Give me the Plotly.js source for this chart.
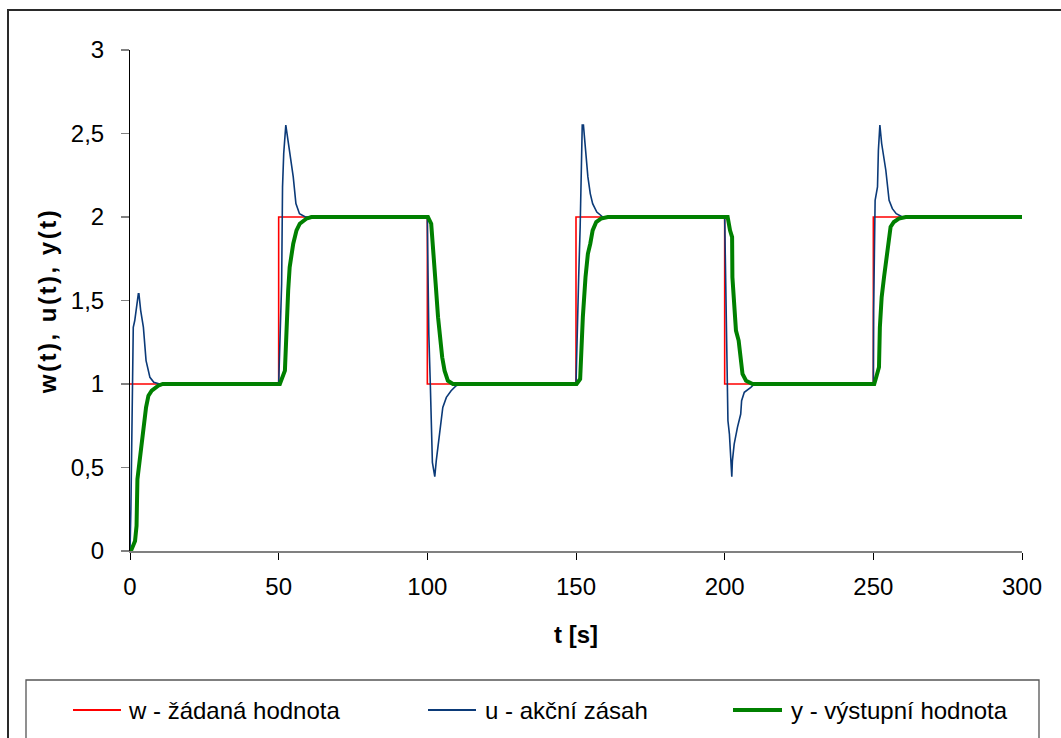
<!DOCTYPE html>
<html>
<head>
<meta charset="utf-8">
<script src="https://cdn.plot.ly/plotly-3.0.1.min.js"></script>
<style>
  html, body { margin: 0; padding: 0; background: #fff; }
  #chart { width: 1061px; height: 738px; }
  .g-ytitle text { letter-spacing: 2.5px; }
</style>
</head>
<body>
<div id="chart"></div>
<script>
// ---- data ----
const seriesNames = ["w - žádaná hodnota", "u - akční zásah", "y - výstupní hodnota"];

const tW = [0, 50, 100, 150, 200, 250, 300];
const wVals = [1, 2, 1, 2, 1, 2, 2];

const tU = [0, 0.3, 1.1, 1.6, 2.8, 3.0, 3.6, 4.5, 5.4, 6.7, 8, 10, 50,
  51, 51.3, 51.7, 52.4, 53.2, 54.9, 55.8, 57, 59, 100,
  100.2, 100.5, 101, 101.3, 101.7, 102.5, 103, 104.1, 105.2, 106.4, 108, 109.7, 111, 150,
  150.3, 150.9, 151.4, 151.7, 151.9, 152.1, 152.5, 153.2, 154, 154.8, 155.6, 157, 159, 200,
  200.2, 200.6, 201, 201.1, 201.6, 202.1, 202.4, 202.6, 203.2, 204.3, 205.4, 205.7, 206.6, 208.8, 210, 250,
  250.1, 250.6, 251.4, 251.7, 252.2, 252.8, 254.2, 255.3, 256.4, 257.7, 259.8, 300];
const uVals = [0, 0.25, 1.34, 1.38, 1.54, 1.54, 1.44, 1.34, 1.14, 1.04, 1.01, 1.0, 1.0,
  1.6, 2.18, 2.38, 2.55, 2.44, 2.24, 2.08, 2.02, 2.0, 2.0,
  1.7, 1.3, 1.0, 0.8, 0.53, 0.445, 0.54, 0.70, 0.86, 0.92, 0.96, 0.99, 1.0, 1.0,
  1.25, 1.64, 1.94, 2.2, 2.44, 2.55, 2.55, 2.42, 2.24, 2.14, 2.08, 2.03, 2.0, 2.0,
  1.8, 1.4, 1.1, 0.78, 0.70, 0.54, 0.445, 0.54, 0.64, 0.74, 0.82, 0.90, 0.95, 0.98, 1.0, 1.0,
  1.44, 2.10, 2.18, 2.40, 2.55, 2.44, 2.28, 2.10, 2.05, 2.02, 2.0, 2.0];

const tY = [0, 0.3, 1.7, 2.2, 2.5, 3.4, 4.5, 5.4, 6.2, 7.3, 9.5, 11, 50,
  50.4, 52.1, 52.6, 53.2, 53.7, 54.9, 56, 57.1, 59.3, 61, 100,
  100.2, 101.3, 101.9, 102.8, 103.6, 104.4, 105, 105.8, 106.9, 108.6, 111, 150,
  150.2, 151.4, 151.7, 152.3, 153.2, 154, 154.8, 155.6, 156.8, 158.4, 160.7, 200,
  201, 201.8, 202.5, 202.6, 203.2, 203.8, 204.7, 205.5, 206, 207.2, 209.4, 250,
  250.3, 250.8, 251.9, 252.2, 252.8, 253.6, 254.7, 255.5, 255.8, 256.9, 258.6, 260.9, 300];
const yVals = [0, 0, 0.06, 0.15, 0.43, 0.58, 0.72, 0.86, 0.93, 0.96, 0.99, 1.0, 1.0,
  1.0, 1.08, 1.34, 1.56, 1.70, 1.84, 1.92, 1.96, 1.99, 2.0, 2.0,
  2.0, 1.96, 1.84, 1.60, 1.40, 1.26, 1.16, 1.08, 1.02, 1.0, 1.0, 1.0,
  1.0, 1.03, 1.20, 1.40, 1.64, 1.78, 1.84, 1.92, 1.97, 1.99, 2.0, 2.0,
  2.0, 1.92, 1.88, 1.64, 1.46, 1.32, 1.26, 1.14, 1.06, 1.02, 1.0, 1.0,
  1.0, 1.03, 1.10, 1.34, 1.52, 1.64, 1.78, 1.88, 1.94, 1.97, 1.99, 2.0, 2.0];

const xTicks = [0, 50, 100, 150, 200, 250, 300];
const yTicks = [0, 0.5, 1, 1.5, 2, 2.5, 3];
const xTitle = "t [s]";
const yTitle = "w(t), u(t), y(t)";

// ---- styles ----
const colors = ["#ff0000", "#0b3a78", "#008000"];
const widths = [1.6, 1.6, 4];
const FONT = "Liberation Sans, Arial, sans-serif";
const FS = 24;

// plot area in pixels
const W = 1061, H = 738, L = 130, R = 1022, T = 50, B = 551;
const pw = R - L, ph = B - T;
const px = v => (v - L) / pw;
const py = v => (B - v) / ph;

const traces = [
  {x: tW, y: wVals, name: seriesNames[0], mode: "lines", line: {color: colors[0], width: widths[0], shape: "hv"}},
  {x: tU, y: uVals, name: seriesNames[1], mode: "lines", line: {color: colors[1], width: widths[1]}},
  {x: tY, y: yVals, name: seriesNames[2], mode: "lines", line: {color: colors[2], width: widths[2]}}
];

// manual legend
const legLineX = [[73, 121], [428, 476], [733, 782]];
const legTextX = [126, 483, 789];
const legY = 710;

const shapes = [
  // outer chart frame
  {type: "rect", xref: "paper", yref: "paper", x0: px(8), x1: px(1070), y0: py(750), y1: py(10),
   line: {color: "#2a2a2a", width: 2}, fillcolor: "rgba(0,0,0,0)", layer: "below"},
  // legend box
  {type: "rect", xref: "paper", yref: "paper", x0: px(26), x1: px(1039), y0: py(750), y1: py(680),
   line: {color: "#555", width: 1.3}, fillcolor: "rgba(0,0,0,0)"}
];
const annotations = [];
for (let i = 0; i < 3; i++) {
  shapes.push({type: "line", xref: "paper", yref: "paper",
    x0: px(legLineX[i][0]), x1: px(legLineX[i][1]), y0: py(legY), y1: py(legY),
    line: {color: colors[i], width: i === 2 ? 4 : 2}});
  annotations.push({xref: "paper", yref: "paper", x: px(legTextX[i]), y: py(legY),
    xanchor: "left", yanchor: "middle", showarrow: false, text: seriesNames[i],
    font: {family: FONT, size: FS, color: "#000"}});
}

const layout = {
  width: W, height: H,
  margin: {l: L, r: W - R, t: T, b: H - B, pad: 0},
  paper_bgcolor: "#fff", plot_bgcolor: "#fff",
  showlegend: false,
  separators: ",.",
  font: {family: FONT, size: FS, color: "#000"},
  xaxis: {
    range: [0, 300], tickvals: xTicks, ticktext: xTicks.map(String),
    showgrid: false, zeroline: false,
    showline: true, linecolor: "#808080", linewidth: 1.5,
    ticks: "outside", ticklen: 7, tickcolor: "#000", tickwidth: 1,
    ticklabelstandoff: 7,
    tickfont: {family: FONT, size: FS, color: "#000"},
    title: {text: "<b>" + xTitle + "</b>", font: {family: FONT, size: FS, color: "#000"}, standoff: 27}
  },
  yaxis: {
    range: [0, 3], tickvals: yTicks, ticktext: yTicks.map(v => String(v).replace(".", ",")),
    showgrid: false, zeroline: false,
    showline: true, linecolor: "#000", linewidth: 1,
    ticks: "outside", ticklen: 8, tickcolor: "#808080", tickwidth: 1.5,
    ticklabelstandoff: 12,
    tickfont: {family: FONT, size: FS, color: "#000"},
    title: {text: "<b>" + yTitle + "</b>", font: {family: FONT, size: FS, color: "#000"}, standoff: 7}
  },
  shapes: shapes,
  annotations: annotations
};

Plotly.newPlot("chart", traces, layout, {staticPlot: true, displayModeBar: false});
</script>
</body>
</html>
